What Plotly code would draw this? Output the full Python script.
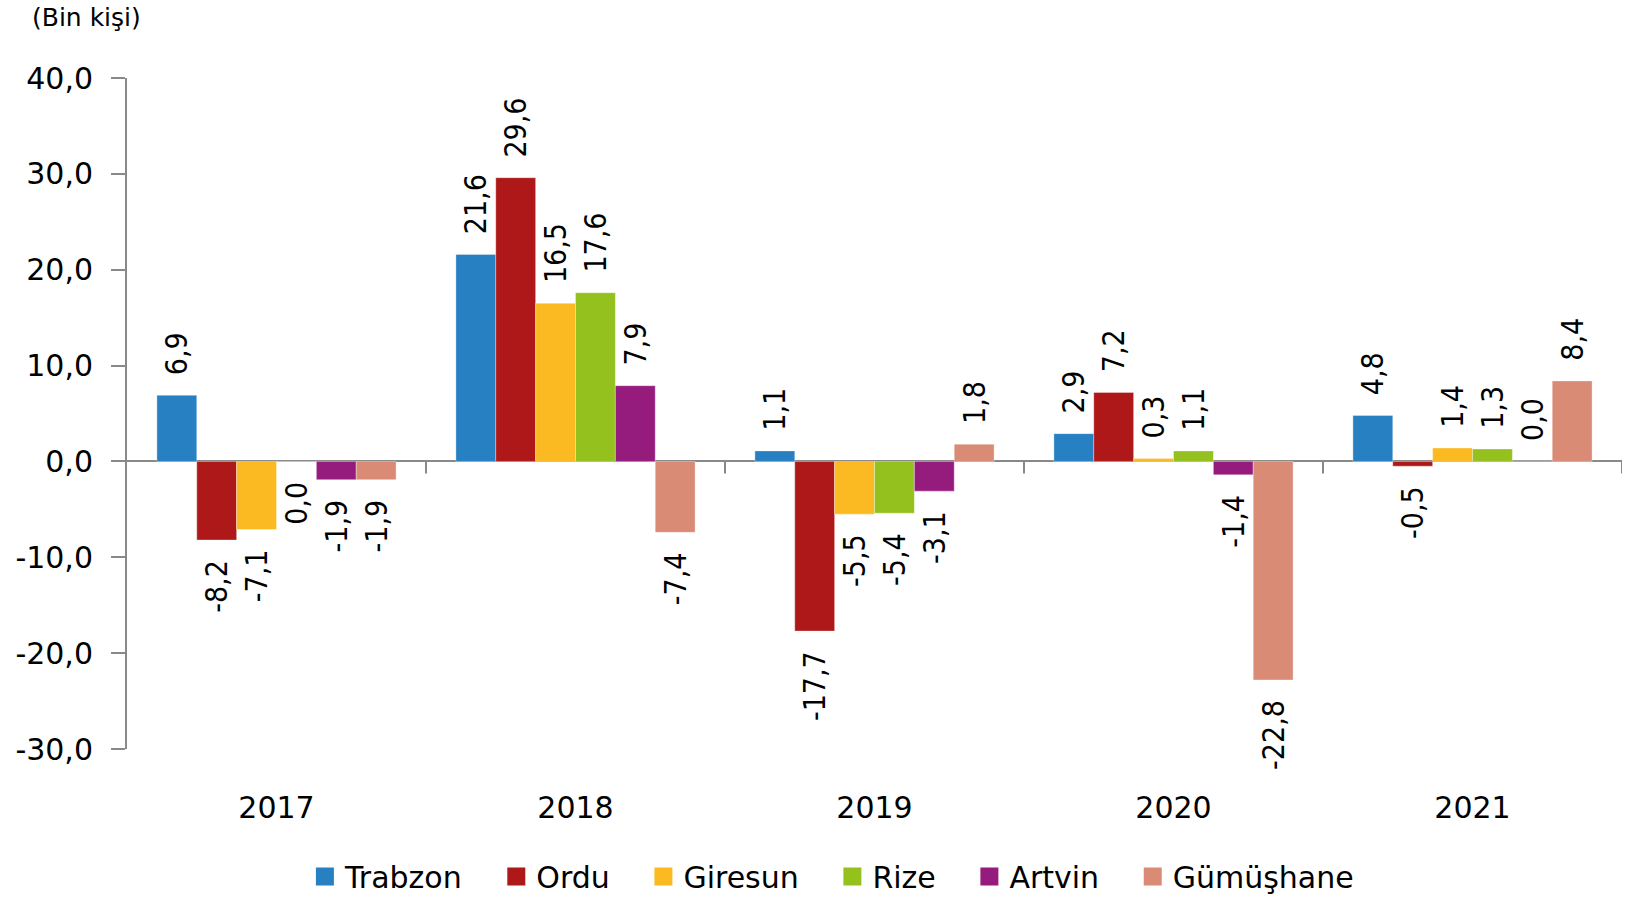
import plotly.graph_objects as go

# ---------------- data ----------------
years = ["2017", "2018", "2019", "2020", "2021"]
trabzon = [6.9, 21.6, 1.1, 2.9, 4.8]
ordu = [-8.2, 29.6, -17.7, 7.2, -0.5]
giresun = [-7.1, 16.5, -5.5, 0.3, 1.4]
rize = [-0.04, 17.6, -5.4, 1.1, 1.3]
artvin = [-1.9, 7.9, -3.1, -1.4, 0.04]
gumushane = [-1.9, -7.4, 1.8, -22.8, 8.4]

series_names = ["Trabzon", "Ordu", "Giresun", "Rize", "Artvin", "Gümüşhane"]
series_values = [trabzon, ordu, giresun, rize, artvin, gumushane]
series_colors = ["#2680C2", "#AE1818", "#FBBA22", "#95C11F", "#951B7C", "#D98B76"]

y_tick_values = [-30, -20, -10, 0, 10, 20, 30, 40]
y_tick_labels = ["-30,0", "-20,0", "-10,0", "0,0", "10,0", "20,0", "30,0", "40,0"]
unit_label = "(Bin kişi)"

# ---------------- helpers ----------------
NB = "\u00a0"
LABEL_PAD = NB * 2


def fmt(v):
    s = f"{abs(v):.1f}".replace(".", ",")
    if round(v, 1) < 0:
        s = "-" + s
    return s


def bar_text(vals):
    out = []
    for v in vals:
        s = fmt(v)
        out.append(LABEL_PAD + s if v >= 0 else s + LABEL_PAD)
    return out


AXIS_GRAY = "#898989"
WIDE_FONT = "DejaVu Sans"
LABEL_FONT = "Liberation Sans Narrow, DejaVu Sans Condensed, Liberation Sans"

fig = go.Figure()

for name, vals, col in zip(series_names, series_values, series_colors):
    fig.add_trace(go.Bar(
        x=years, y=vals, name=name,
        marker=dict(color=col, line=dict(width=1, color="rgba(255,255,255,0.35)")),
        text=bar_text(vals), textposition="outside", textangle=-90,
        textfont=dict(family=LABEL_FONT, size=30, color="black"),
        constraintext="none", cliponaxis=False, showlegend=False,
    ))

# legend entries (larger square swatches)
for name, col in zip(series_names, series_colors):
    fig.add_trace(go.Scatter(
        x=[None], y=[None], mode="markers", name=name + NB * 3,
        marker=dict(symbol="square", size=16, color=col, line=dict(width=2, color=col)),
        showlegend=True,
    ))

# category boundary ticks on the zero line
shapes = []
for i in range(len(years)):
    shapes.append(dict(
        type="line", xref="x", yref="y", x0=i + 0.5, x1=i + 0.5,
        ysizemode="pixel", yanchor=0, y0=0, y1=-12,
        line=dict(color=AXIS_GRAY, width=2),
    ))

fig.update_layout(
    width=1625, height=897,
    margin=dict(l=127, r=3, t=78, b=148, autoexpand=False),
    paper_bgcolor="white", plot_bgcolor="white",
    barmode="group", bargap=0.2, bargroupgap=0,
    shapes=shapes,
    showlegend=True,
    legend=dict(
        orientation="h", x=0.119, xanchor="left", y=-0.19, yanchor="middle",
        font=dict(family=WIDE_FONT, size=30, color="black"),
        bgcolor="rgba(0,0,0,0)",
    ),
    annotations=[dict(
        text=unit_label, xref="paper", yref="paper", x=-0.065, y=1.09,
        xanchor="left", yanchor="middle", showarrow=False,
        font=dict(family=WIDE_FONT, size=25, color="black"),
    )],
)

fig.update_xaxes(
    type="category", range=[-0.5, len(years) - 0.5],
    showgrid=False, showline=False, zeroline=False, ticks="",
    tickfont=dict(family=WIDE_FONT, size=30, color="black"),
    ticklabelstandoff=38,
)

fig.update_yaxes(
    range=[-30, 40], tickvals=y_tick_values, ticktext=y_tick_labels,
    showgrid=False, showline=True, linecolor=AXIS_GRAY, linewidth=2,
    ticks="outside", ticklen=14, tickwidth=2, tickcolor=AXIS_GRAY,
    zeroline=True, zerolinecolor=AXIS_GRAY, zerolinewidth=2,
    tickfont=dict(family=WIDE_FONT, size=30, color="black"),
    ticklabelstandoff=12,
)

fig.write_html("out.html", config={"displayModeBar": False},
               post_script="document.body.style.margin='0';")
